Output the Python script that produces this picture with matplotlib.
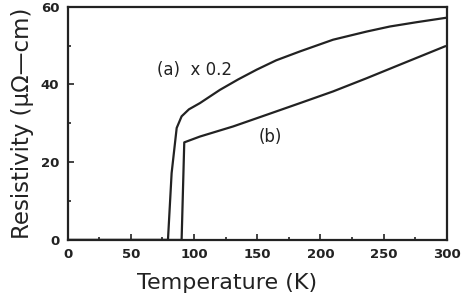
import matplotlib
matplotlib.use("Agg")
import matplotlib.pyplot as plt
from matplotlib.ticker import MultipleLocator

# curve (a), scaled x0.2
temp_a = [0, 79.4, 82.3, 86.3, 90.2, 96, 104.7, 120.5, 135, 149.6, 165, 183.9,
          210, 236.6, 255, 276, 298.6]
rho_a = [0, 0, 17.2, 28.8, 31.8, 33.6, 35.2, 38.6, 41.3, 43.8, 46.2, 48.5,
         51.5, 53.6, 54.9, 56.0, 57.1]

# curve (b)
temp_b = [0, 90.2, 92.3, 104.7, 131, 157.5, 183.9, 210, 236.6, 263, 298.6]
rho_b = [0, 0, 25.1, 26.6, 29.2, 32.2, 35.2, 38.2, 41.6, 45.1, 49.8]

x_ticks = [0, 50, 100, 150, 200, 250, 300]
y_ticks = [0, 20, 40, 60]

ink = "#222222"
fig = plt.figure(figsize=(4.63, 3.03), dpi=100)
ax = fig.add_axes([0.146, 0.208, 0.819, 0.77])

ax.plot(temp_a, rho_a, color=ink, lw=1.6)
ax.plot(temp_b, rho_b, color=ink, lw=1.6)

ax.set_xlim(0, 300)
ax.set_ylim(0, 60)
ax.set_xticks(x_ticks)
ax.set_yticks(y_ticks)
ax.xaxis.set_minor_locator(MultipleLocator(25))
ax.yaxis.set_minor_locator(MultipleLocator(10))
ax.tick_params(which="both", direction="in", color=ink, width=1.2)
ax.tick_params(which="major", length=4, labelsize=9.5, pad=6)
ax.tick_params(which="minor", length=2.5)
for lab in ax.get_xticklabels() + ax.get_yticklabels():
    lab.set_fontweight("bold")
    lab.set_color(ink)
for s in ax.spines.values():
    s.set_linewidth(1.6)
    s.set_color(ink)

ax.set_xlabel("Temperature (K)", fontsize=16, color=ink)
ax.xaxis.set_label_coords(0.42, -0.14)
ax.set_ylabel("Resistivity (\u03bc\u03a9\u2014cm)", fontsize=16.5, color=ink, labelpad=5)

ax.text(71, 43.8, "(a)  x 0.2", fontsize=12, color=ink, va="center")
ax.text(160, 26.5, "(b)", fontsize=12, color=ink, va="center", ha="center")

fig.savefig("out.png", dpi=100)
